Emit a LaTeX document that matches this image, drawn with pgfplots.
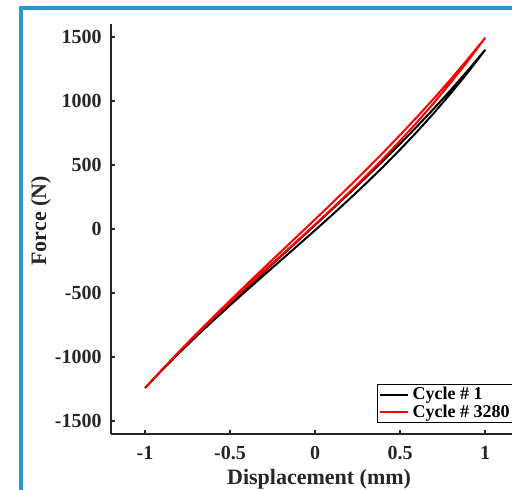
\documentclass[border=0pt]{standalone}
\usepackage{pgfplots}
\pgfplotsset{compat=1.18}
\usepackage{fontspec}
\setmainfont{Liberation Serif}
\definecolor{axgray}{RGB}{38,38,38}
\definecolor{selblue}{RGB}{40,150,210}

\begin{document}
\begin{tikzpicture}
% page is 512x489 px at 0.5pt per px
\useasboundingbox (0pt,0pt) rectangle (256pt,244.5pt);
\clip (0pt,0pt) rectangle (256pt,244.5pt);
\draw[selblue, line width=2pt] (10.5pt,-50pt) -- (10.5pt,240.75pt) -- (320pt,240.75pt);
\begin{axis}[
   at={(55.5pt,27.6pt)}, anchor=south west,
   scale only axis,
   width=204pt, height=204.8pt,
   xmin=-1.2, xmax=1.2,
   ymin=-1600, ymax=1600,
   axis lines*=left,
   axis line style={-, axgray, line width=1pt},
   tick style={axgray, line width=1pt},
   tick align=inside,
   major tick length=2pt,
   xtick={-1,-0.5,0,0.5,1},
   ytick={-1500,-1000,-500,0,500,1000,1500},
   scaled y ticks=false,
   /pgf/number format/assume math mode=true,
   /pgf/number format/1000 sep={},
   every tick label/.append style={font=\fontsize{10}{12}\selectfont\bfseries, text=axgray},
   yticklabel style={anchor=east, inner sep=0pt, xshift=-4.5pt},
   xticklabel style={anchor=north, inner sep=0pt, yshift=-6pt},
   xlabel={Displacement (mm)},
   ylabel={Force (N)},
   label style={font=\fontsize{11}{13}\selectfont\bfseries, text=axgray},
   xlabel style={at={(axis description cs:0.51,-0.11)}, anchor=center},
   ylabel style={at={(axis description cs:-0.172,0.52)}, anchor=center},
   legend style={at={(0.652,0.1216)}, anchor=north west, draw=black,
      line width=0.6pt, fill=white, inner sep=0.5pt, row sep=0pt,
      nodes={inner xsep=2pt, inner ysep=0.6pt},
      font=\fontsize{9}{10}\selectfont\bfseries},
   legend cell align=left,
   legend image code/.code={\draw[#1, line width=1pt] (0pt,0pt) -- (14pt,0pt);},
]
\addplot[black, line width=1pt, line join=round] coordinates {
  (-1,-1242)(-0.9,-1103)(-0.8,-969)(-0.7,-841)(-0.6,-717)(-0.5,-596)(-0.4,-477)
  (-0.3,-360)(-0.2,-244)(-0.1,-127)(0,-10)(0.1,109)(0.2,231)(0.3,356)(0.4,485)
  (0.5,620)(0.6,760)(0.7,907)(0.8,1062)(0.9,1225)(1,1398)
  (0.9,1240)(0.8,1088)(0.7,942)(0.6,801)(0.5,665)(0.4,532)(0.3,403)(0.2,277)
  (0.1,153)(0,30)(-0.1,-92)(-0.2,-213)(-0.3,-334)(-0.4,-457)(-0.5,-581)
  (-0.6,-706)(-0.7,-835)(-0.8,-966)(-0.9,-1102)(-1,-1242)
};
\addlegendentry{Cycle \# 1}
\addplot[red, line width=1pt, line join=round] coordinates {
  (-1,-1242)(-0.9,-1098)(-0.8,-961)(-0.7,-828)(-0.6,-699)(-0.5,-574)(-0.4,-450)
  (-0.3,-329)(-0.2,-208)(-0.1,-87)(0,35)(0.1,159)(0.2,285)(0.3,415)(0.4,549)
  (0.5,689)(0.6,834)(0.7,986)(0.8,1146)(0.9,1314)(1,1492)
  (0.9,1329)(0.8,1172)(0.7,1021)(0.6,875)(0.5,734)(0.4,596)(0.3,462)(0.2,331)
  (0.1,202)(0,75)(-0.1,-51)(-0.2,-177)(-0.3,-303)(-0.4,-430)(-0.5,-559)
  (-0.6,-689)(-0.7,-822)(-0.8,-958)(-0.9,-1098)(-1,-1242)
};
\addlegendentry{Cycle \# 3280}
\end{axis}
\end{tikzpicture}
\end{document}
